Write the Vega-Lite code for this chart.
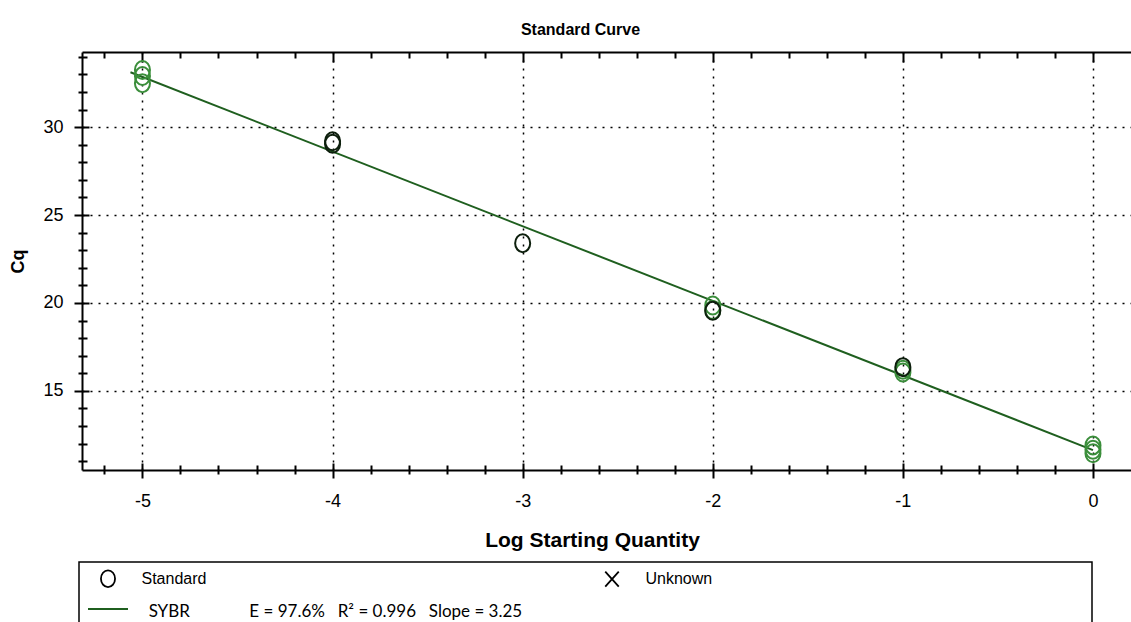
{
  "$schema": "https://vega.github.io/schema/vega-lite/v6.json",
  "width": 1049,
  "height": 418,
  "autosize": {"type": "none"},
  "padding": {"left": 82, "top": 52, "right": 0, "bottom": 152},
  "background": "white",
  "title": {"text": "Standard Curve", "font": "Liberation Sans", "fontSize": 16, "fontWeight": "bold", "color": "black", "anchor": "middle", "dx": -26, "offset": -3, "baseline": "alphabetic"},
  "datasets": {
    "curve": [
      {"logq": -5.063, "cq": 33.12, "series": "SYBR"},
      {"logq": 0, "cq": 11.63, "series": "SYBR"}
    ],
    "green_wells": [
      {"logq": -5, "cq": 33.25, "type": "Standard"},
      {"logq": -5, "cq": 32.9, "type": "Standard"},
      {"logq": -5, "cq": 32.5, "type": "Standard"},
      {"logq": -2, "cq": 19.85, "type": "Standard"},
      {"logq": -2, "cq": 19.6, "type": "Standard"},
      {"logq": -1, "cq": 16.05, "type": "Standard"},
      {"logq": -1, "cq": 16.2, "type": "Standard"},
      {"logq": 0, "cq": 11.9, "type": "Standard"},
      {"logq": 0, "cq": 11.65, "type": "Standard"},
      {"logq": 0, "cq": 11.45, "type": "Standard"}
    ],
    "black_wells": [
      {"logq": -4, "cq": 29.05, "type": "Standard"},
      {"logq": -4, "cq": 29.2, "type": "Standard"},
      {"logq": -3, "cq": 23.4, "type": "Standard"},
      {"logq": -2, "cq": 19.55, "type": "Standard"},
      {"logq": -1, "cq": 16.35, "type": "Standard"}
    ]
  },
  "config": {
    "view": {"stroke": null},
    "legend": {"strokeWidth": 1.5}
  },
  "layer": [
    {
      "data": {"name": "curve"},
      "mark": {"type": "line", "strokeWidth": 2},
      "encoding": {
        "x": {
          "field": "logq", "type": "quantitative",
          "scale": {"domain": [-5.318, 0.2], "nice": false, "zero": false},
          "axis": {
            "orient": "bottom",
            "values": [-5.2,-5,-4.8,-4.6,-4.4,-4.2,-4,-3.8,-3.6,-3.4,-3.2,-3,-2.8,-2.6,-2.4,-2.2,-2,-1.8,-1.6,-1.4,-1.2,-1,-0.8,-0.6,-0.4,-0.2,0],
            "tickSize": {"condition": {"test": "abs(datum.value - round(datum.value)) < 0.01", "value": 8}, "value": 4},
            "tickColor": "black", "tickWidth": 2,
            "labelExpr": "abs(datum.value - round(datum.value)) < 0.01 ? '' + round(datum.value) : ''",
            "labelFont": "Liberation Sans", "labelFontSize": 18, "labelColor": "black", "labelPadding": 14,
            "labelOverlap": false, "labelFlush": false, "labelBound": false,
            "grid": true,
            "gridOpacity": {"condition": {"test": "abs(datum.value - round(datum.value)) < 0.01", "value": 1}, "value": 0},
            "gridColor": "black", "gridDash": [2, 6], "gridWidth": 1.5,
            "domain": true, "domainColor": "black", "domainWidth": 2,
            "title": "Log Starting Quantity", "titleFont": "Liberation Sans", "titleFontSize": 21, "titleFontWeight": "bold", "titleColor": "black",
            "titlePadding": 19, "titleX": 510
          }
        },
        "y": {
          "field": "cq", "type": "quantitative",
          "scale": {"domain": [10.5, 34.27], "nice": false, "zero": false},
          "axis": {
            "orient": "left",
            "values": [11,12,13,14,15,16,17,18,19,20,21,22,23,24,25,26,27,28,29,30,31,32,33,34],
            "tickSize": {"condition": {"test": "datum.value % 5 === 0", "value": 8}, "value": 4},
            "tickColor": "black", "tickWidth": 2,
            "labelExpr": "datum.value % 5 === 0 ? '' + datum.value : ''",
            "labelFont": "Liberation Sans", "labelFontSize": 18, "labelColor": "black", "labelPadding": 11,
            "labelOverlap": false, "labelFlush": false, "labelBound": false,
            "grid": true,
            "gridOpacity": {"condition": {"test": "datum.value % 5 === 0", "value": 1}, "value": 0},
            "gridColor": "black", "gridDash": [2, 6], "gridWidth": 1.5,
            "domain": true, "domainColor": "black", "domainWidth": 2,
            "title": "Cq", "titleFont": "Liberation Sans", "titleFontSize": 18, "titleFontWeight": "bold", "titleColor": "black",
            "titlePadding": 15
          }
        },
        "stroke": {
          "field": "series", "type": "nominal",
          "scale": {"range": ["#1f5f1f"]},
          "legend": {
            "orient": "none", "legendX": 5, "legendY": 536,
            "title": null,
            "symbolType": "stroke", "symbolSize": 1600, "symbolStrokeWidth": 2,
            "labelExpr": "''",
            "padding": 0
          }
        }
      }
    },
    {
      "data": {"name": "green_wells"},
      "mark": {"type": "point", "filled": false, "stroke": "#3b8e3b", "strokeWidth": 2, "size": 256, "opacity": 1},
      "encoding": {
        "x": {
          "field": "logq", "type": "quantitative",
          "axis": {
            "orient": "bottom",
            "values": [-5.2,-5,-4.8,-4.6,-4.4,-4.2,-4,-3.8,-3.6,-3.4,-3.2,-3,-2.8,-2.6,-2.4,-2.2,-2,-1.8,-1.6,-1.4,-1.2,-1,-0.8,-0.6,-0.4,-0.2,0],
            "tickSize": {"condition": {"test": "abs(datum.value - round(datum.value)) < 0.01", "value": -7}, "value": -5},
            "tickColor": "black", "tickWidth": 2,
            "labels": false, "grid": false, "domain": false, "title": null
          }
        },
        "y": {
          "field": "cq", "type": "quantitative",
          "axis": {
            "orient": "left",
            "values": [11,12,13,14,15,16,17,18,19,20,21,22,23,24,25,26,27,28,29,30,31,32,33,34],
            "tickSize": {"condition": {"test": "datum.value % 5 === 0", "value": -7}, "value": -5},
            "tickColor": "black", "tickWidth": 2,
            "labels": false, "grid": false, "domain": false, "title": null
          }
        },
        "shape": {
          "field": "type", "type": "nominal",
          "scale": {"domain": ["Standard", "Unknown"], "range": ["M0,-1.125A0.94,1.125,0,1,1,0,1.125A0.94,1.125,0,1,1,0,-1.125Z", "M-0.9,-1L0.9,1M-0.9,1L0.9,-1"]},
          "legend": {
            "orient": "none", "legendX": -3, "legendY": 510,
            "direction": "horizontal", "columns": 2, "columnPadding": 384,
            "padding": 8, "strokeColor": "black",
            "title": "\u200b\u2003\u2003\u2003\u2003\u2002\u2009SYBR\u2003\u2003\u2003\u2003\u2002E = 97.6%\u2003R² = 0.996\u2003Slope = 3.25\u2003\u2003\u2003\u2003\u2003\u2003\u2003\u2003\u2003\u2003\u2003\u2003\u2003\u2003\u2003\u2003\u2003\u2003\u2003\u2003\u2003\u2003\u2003\u2003\u2003\u2003\u2003\u2003\u2003\u2003\u2003\u2003\u2003\u2003\u2003\u2003\u2003\u2003\u2003\u2003\u2003\u2003\u2003\u2003\u200b",
            "titleOrient": "bottom", "titleAnchor": "start", "titleAlign": "left",
            "titleFont": "Lato", "titleFontSize": 17, "titleFontWeight": "normal", "titleColor": "black",
            "titlePadding": 13, "titleLimit": 2000,
            "symbolSize": 225, "symbolStrokeColor": "black", "symbolFillColor": "transparent", "symbolStrokeWidth": 1.8,
            "symbolOffset": 12.5, "labelOffset": 25,
            "labelFont": "Liberation Sans", "labelFontSize": 16, "labelColor": "black"
          }
        }
      }
    },
    {
      "data": {"name": "black_wells"},
      "mark": {"type": "point", "filled": false, "stroke": "#0d1f0d", "strokeWidth": 2, "size": 256, "opacity": 1},
      "encoding": {
        "x": {
          "field": "logq", "type": "quantitative",
          "axis": {
            "orient": "top",
            "values": [-5.2,-5,-4.8,-4.6,-4.4,-4.2,-4,-3.8,-3.6,-3.4,-3.2,-3,-2.8,-2.6,-2.4,-2.2,-2,-1.8,-1.6,-1.4,-1.2,-1,-0.8,-0.6,-0.4,-0.2,0],
            "tickSize": {"condition": {"test": "abs(datum.value - round(datum.value)) < 0.01", "value": -10}, "value": -6},
            "tickColor": "black", "tickWidth": 2,
            "labels": false, "grid": false,
            "domain": true, "domainColor": "black", "domainWidth": 2, "title": null
          }
        },
        "y": {"field": "cq", "type": "quantitative", "axis": null},
        "shape": {
          "field": "type", "type": "nominal",
          "legend": {
            "orient": "none", "legendX": -3, "legendY": 510,
            "direction": "horizontal", "columns": 2, "columnPadding": 384,
            "padding": 8, "strokeColor": "black",
            "title": "\u200b\u2003\u2003\u2003\u2003\u2002\u2009SYBR\u2003\u2003\u2003\u2003\u2002E = 97.6%\u2003R² = 0.996\u2003Slope = 3.25\u2003\u2003\u2003\u2003\u2003\u2003\u2003\u2003\u2003\u2003\u2003\u2003\u2003\u2003\u2003\u2003\u2003\u2003\u2003\u2003\u2003\u2003\u2003\u2003\u2003\u2003\u2003\u2003\u2003\u2003\u2003\u2003\u2003\u2003\u2003\u2003\u2003\u2003\u2003\u2003\u2003\u2003\u2003\u2003\u200b",
            "titleOrient": "bottom", "titleAnchor": "start", "titleAlign": "left",
            "titleFont": "Lato", "titleFontSize": 17, "titleFontWeight": "normal", "titleColor": "black",
            "titlePadding": 13, "titleLimit": 2000,
            "symbolSize": 225, "symbolStrokeColor": "black", "symbolFillColor": "transparent", "symbolStrokeWidth": 1.8,
            "symbolOffset": 12.5, "labelOffset": 25,
            "labelFont": "Liberation Sans", "labelFontSize": 16, "labelColor": "black"
          }
        }
      }
    }
  ],
  "resolve": {"axis": {"x": "independent", "y": "independent"}}
}
